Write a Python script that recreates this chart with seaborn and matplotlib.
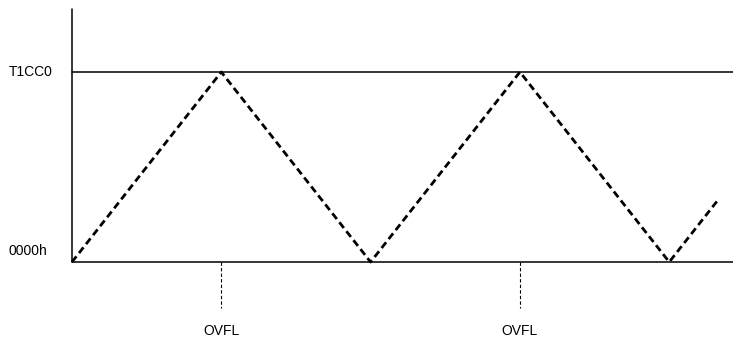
import numpy as np
import pandas as pd
import matplotlib.pyplot as plt
import seaborn as sns

# timer counter in up/down mode, time in units of half periods
time = [0, 1, 2, 3, 4, 4.333]
count = [0, 1, 0, 1, 0, 0.333]
ovfl_times = [1, 3]
level_labels = ['0000h', 'T1CC0']
level_values = [0, 1]

sns.set_style("white")
plt.rcParams['font.family'] = ['Liberation Sans Narrow', 'Liberation Sans', 'DejaVu Sans']

fig = plt.figure(figsize=(7.33, 3.42), dpi=100)
ax = fig.add_axes([0, 0, 1, 1])
ax.set_xlim(-0.482, 4.427)
ax.set_ylim(-0.421, 1.379)
ax.axis('off')

df = pd.DataFrame({'time': time, 'count': count})
sns.lineplot(x='time', y='count', data=df, ax=ax, color='black',
             linewidth=2.0, linestyle=(0, (2.6, 1.5)))

# vertical axis
ax.plot([0, 0], [0, 1.332], color='black', linewidth=1.1)
# level lines
for v in level_values:
    ax.plot([0, 4.427], [v, v], color='black', linewidth=1.1)

ax.text(-0.127, 1, level_labels[1], ha='right', va='center',
        fontsize=10, color='black')
ax.text(-0.167, 0.06, level_labels[0], ha='right', va='center',
        fontsize=10, color='black')

for t in ovfl_times:
    ax.plot([t, t], [0, -0.242], color='black', linewidth=0.8,
            linestyle=(0, (3, 2)))
    ax.text(t, -0.365, 'OVFL', ha='center', va='center',
            fontsize=10, color='black')

plt.savefig('out.png', dpi=100)
